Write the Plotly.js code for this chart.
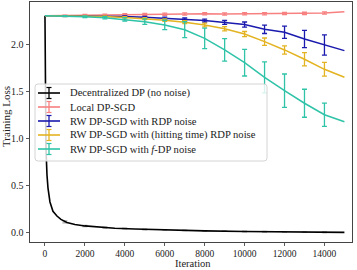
<!DOCTYPE html>
<html>
<head>
<meta charset="utf-8">
<script src="https://cdn.plot.ly/plotly-3.0.1.min.js"></script>
<style>html,body{margin:0;padding:0;background:#fff;}#chart{width:357px;height:270px;}</style>
</head>
<body>
<div id="chart"></div>
<script>
// ---- data ----
var iterations = [0,1000,2000,3000,4000,5000,6000,7000,8000,9000,10000,11000,12000,13000,14000,15000];
var errIterations = [1000,2000,3000,4000,5000,6000,7000,8000,9000,10000,11000,12000,13000,14000];

var blackIter = [0,50,100,150,250,400,600,800,1100,1500,2000,2800,3500,4500,6000,7000,8000,10000,12000,14000,15000];
var blackLoss = [2.31,0.9,0.62,0.48,0.33,0.23,0.18,0.145,0.112,0.09,0.075,0.06,0.05,0.043,0.033,0.027,0.022,0.016,0.011,0.008,0.006];
var blackErrIter = [1000,2000,3000,4000,5000,6000,7000,8000,9000,10000,11000,12000,13000,14000];
var blackErrLoss = [0.118,0.075,0.058,0.047,0.038,0.033,0.027,0.022,0.019,0.016,0.013,0.011,0.009,0.008];
var blackErr = [0.01,0.006,0.005,0.004,0.004,0.003,0.003,0.003,0.003,0.003,0.003,0.003,0.003,0.003];

var localLoss = [2.311,2.31,2.315,2.318,2.322,2.325,2.327,2.33,2.332,2.33,2.331,2.332,2.335,2.336,2.34,2.354];
var localErr = [0.008,0.009,0.01,0.011,0.011,0.011,0.012,0.012,0.012,0.012,0.012,0.012,0.012,0.012];

var rdpLoss = [2.311,2.31,2.308,2.305,2.302,2.296,2.286,2.275,2.259,2.24,2.217,2.167,2.135,2.064,2.0,1.94];
var rdpErr = [0.003,0.004,0.005,0.006,0.008,0.01,0.012,0.015,0.02,0.027,0.045,0.065,0.092,0.108];

var htLoss = [2.311,2.31,2.307,2.302,2.293,2.28,2.264,2.242,2.212,2.172,2.116,2.035,1.947,1.848,1.741,1.656];
var htErr = [0.003,0.004,0.006,0.008,0.01,0.013,0.016,0.02,0.023,0.027,0.039,0.044,0.071,0.073];

var fdpLoss = [2.311,2.307,2.3,2.29,2.273,2.248,2.213,2.162,2.07,1.947,1.812,1.656,1.514,1.38,1.258,1.184];
var fdpErr = [0.005,0.008,0.012,0.018,0.03,0.05,0.085,0.11,0.12,0.142,0.165,0.177,0.149,0.124];

var seriesNames = ["Decentralized DP (no noise)","Local DP-SGD","RW DP-SGD with RDP noise","RW DP-SGD with (hitting time) RDP noise","RW DP-SGD with <i>f</i>-DP noise"];
var xTicks = [0,2000,4000,6000,8000,10000,12000,14000];
var yTicks = [0.0,0.5,1.0,1.5,2.0];

// ---- styles ----
var colors = ["#000000","#f78080","#1a1aae","#e3b321","#2fc3a8"];
var FONT = "Liberation Serif, Times New Roman, serif";

function lineTrace(x, y, c, w){
  return {x:x, y:y, mode:'lines', type:'scatter', line:{color:c, width:w||1.5}, showlegend:false, hoverinfo:'skip'};
}
function errTrace(x, y, e, c){
  return {x:x, y:y, mode:'markers', type:'scatter', marker:{size:1, opacity:0, color:c},
    error_y:{type:'data', array:e, visible:true, color:c, thickness:1.3, width:2.5},
    showlegend:false, hoverinfo:'skip'};
}
function sub(arr){ return arr.slice(1, arr.length-1); }

var traces = [
  errTrace(blackErrIter, blackErrLoss, blackErr, 'rgba(0,0,0,0.35)'),
  lineTrace(blackIter, blackLoss, colors[0], 1.6),
  lineTrace(iterations, localLoss, colors[1]),
  errTrace(errIterations, sub(localLoss), localErr, colors[1]),
  lineTrace(iterations, rdpLoss, colors[2]),
  errTrace(errIterations, sub(rdpLoss), rdpErr, colors[2]),
  lineTrace(iterations, htLoss, colors[3]),
  errTrace(errIterations, sub(htLoss), htErr, colors[3]),
  lineTrace(iterations, fdpLoss, colors[4]),
  errTrace(errIterations, sub(fdpLoss), fdpErr, colors[4])
];

// ---- manual legend (pixel -> paper helpers) ----
var L=30, R=5, T=2, B=28, W=357, H=270;
var PW = W-L-R, PH = H-T-B;
function px(x){ return (x-L)/PW; }
function py(y){ return (H-B-y)/PH; }

var shapes = [];
var annotations = [];
(function(){
  var x0=35, x1=267, y0=84, y1=161, r=3;
  var p = 'M '+px(x0+r)+','+py(y0)+' L '+px(x1-r)+','+py(y0)+' Q '+px(x1)+','+py(y0)+' '+px(x1)+','+py(y0+r)+
          ' L '+px(x1)+','+py(y1-r)+' Q '+px(x1)+','+py(y1)+' '+px(x1-r)+','+py(y1)+
          ' L '+px(x0+r)+','+py(y1)+' Q '+px(x0)+','+py(y1)+' '+px(x0)+','+py(y1-r)+
          ' L '+px(x0)+','+py(y0+r)+' Q '+px(x0)+','+py(y0)+' '+px(x0+r)+','+py(y0)+' Z';
  shapes.push({type:'path', xref:'paper', yref:'paper', path:p, fillcolor:'rgba(255,255,255,0.82)', line:{color:'#d4d4d4', width:1}, layer:'above'});
  var rows=[93,107,121,135,149];
  for (var i=0;i<seriesNames.length;i++){
    var yy=rows[i], c=colors[i];
    shapes.push({type:'line', xref:'paper', yref:'paper', x0:px(38), x1:px(60), y0:py(yy), y1:py(yy), line:{color:c, width:1.6}, layer:'above'});
    shapes.push({type:'line', xref:'paper', yref:'paper', x0:px(49), x1:px(49), y0:py(yy-5.5), y1:py(yy+5.5), line:{color:c, width:1.3}, layer:'above'});
    shapes.push({type:'line', xref:'paper', yref:'paper', x0:px(46.5), x1:px(51.5), y0:py(yy-5.5), y1:py(yy-5.5), line:{color:c, width:1.2}, layer:'above'});
    shapes.push({type:'line', xref:'paper', yref:'paper', x0:px(46.5), x1:px(51.5), y0:py(yy+5.5), y1:py(yy+5.5), line:{color:c, width:1.2}, layer:'above'});
    annotations.push({xref:'paper', yref:'paper', x:px(67.5), y:py(yy), xanchor:'left', yanchor:'middle', showarrow:false,
      text:seriesNames[i], font:{family:FONT, size:10.6, color:'#222'}});
  }
})();

// axis titles as annotations
annotations.push({xref:'paper', yref:'paper', x:px(193), y:py(270), xanchor:'center', yanchor:'bottom', showarrow:false, borderpad:0,
  text:'Iteration', font:{family:FONT, size:10.5, color:'#222'}});
annotations.push({xref:'paper', yref:'paper', x:px(6), y:py(117), xanchor:'center', yanchor:'middle', showarrow:false,
  text:'Training Loss', textangle:-90, font:{family:FONT, size:11, color:'#222'}});

var layout = {
  width:W, height:H,
  margin:{l:L, r:R, t:T, b:B, pad:0},
  paper_bgcolor:'#fff', plot_bgcolor:'#fff',
  showlegend:false,
  font:{family:FONT, size:10, color:'#222'},
  xaxis:{range:[-750,15380], tickvals:xTicks, ticktext:xTicks.map(String), ticks:'outside', ticklen:3, tickwidth:0.8, tickcolor:'#333',
    ticklabelstandoff:0,
    showgrid:false, zeroline:false, showline:true, mirror:true, linecolor:'#444', linewidth:1,
    tickfont:{family:FONT, size:9.5, color:'#222'}},
  yaxis:{range:[-0.096,2.457], tickvals:yTicks, ticktext:yTicks.map(function(v){return v.toFixed(1);}), ticks:'outside', ticklen:3.5, tickwidth:0.8, tickcolor:'#333',
    showgrid:false, zeroline:false, showline:true, mirror:true, linecolor:'#444', linewidth:1,
    tickfont:{family:FONT, size:10, color:'#222'}},
  shapes:shapes,
  annotations:annotations
};

Plotly.newPlot('chart', traces, layout, {staticPlot:true, displayModeBar:false});
</script>
</body>
</html>
